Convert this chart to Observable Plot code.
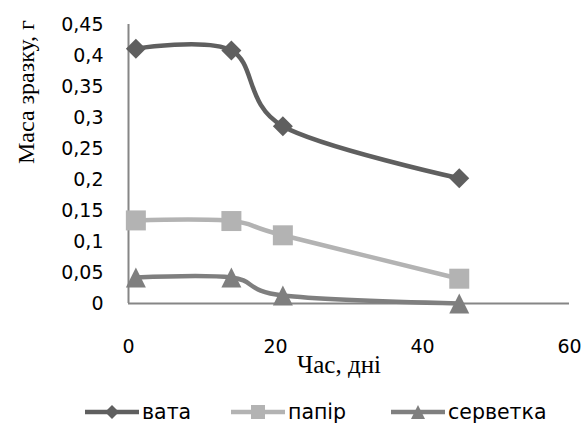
<!DOCTYPE html>
<html><head><meta charset="utf-8">
<script src="https://cdn.jsdelivr.net/npm/d3@7"></script>
<script src="https://cdn.jsdelivr.net/npm/@observablehq/plot@0.6"></script>
<style>
body{margin:0;background:#fff;}
#chart svg{display:block;}
</style>
</head><body><div id="chart"></div><div id="legend"></div>
<script>
// ---- data ----
const days = [1, 14, 21, 45];
const vata = [0.411, 0.408, 0.286, 0.202];
const papir = [0.134, 0.133, 0.110, 0.040];
const servetka = [0.042, 0.042, 0.013, 0.000];
const seriesNames = ["вата", "папір", "серветка"];
const seriesColors = ["#5f5f5f", "#b3b3b3", "#7f7f7f"];
const xTicks = [0, 20, 40, 60];
const yTicks = [0, 0.05, 0.1, 0.15, 0.2, 0.25, 0.3, 0.35, 0.4, 0.45];
const xTitle = "Час, дні";
const yTitle = "Маса зразку, г";

// ---- symbols (bbox-centred, like Excel markers) ----
const rOf = size => Math.sqrt(size / Math.PI);
const diamondSym = {draw(c, size){const r = rOf(size); c.moveTo(0,-r); c.lineTo(r,0); c.lineTo(0,r); c.lineTo(-r,0); c.closePath();}};
const squareSym = {draw(c, size){const r = rOf(size); c.moveTo(-r,-r); c.lineTo(r,-r); c.lineTo(r,r); c.lineTo(-r,r); c.closePath();}};
const triangleSym = {draw(c, size){const r = rOf(size); c.moveTo(0,-r); c.lineTo(r,r); c.lineTo(-r,r); c.closePath();}};
const symbols = [diamondSym, squareSym, triangleSym];

const values = [vata, papir, servetka];
const series = values.map((vals, i) => days.map((d, j) => ({day: d, mass: vals[j], name: seriesNames[i]})));

const W = 584, H = 385;
const serif = "'Liberation Serif', 'Times New Roman', serif";
const sans = "'DejaVu Sans', sans-serif";

const marks = [
  Plot.ruleX([0], {stroke: "#868686", strokeWidth: 2}),
  Plot.ruleY([0], {stroke: "#868686", strokeWidth: 2}),
  Plot.axisX({ticks: xTicks, tickSize: 0, tickPadding: 36, label: null, tickFormat: d => String(d)}),
  Plot.axisY({ticks: yTicks, tickSize: 0, tickPadding: 25, label: null, tickFormat: d => String(d).replace(".", ",")}),
];
series.forEach((s, i) => {
  marks.push(Plot.line(s, {x: "day", y: "mass", stroke: seriesColors[i], strokeWidth: 4.5, curve: "cardinal"}));
});
series.forEach((s, i) => {
  marks.push(Plot.dot(s, {x: "day", y: "mass", fill: seriesColors[i], stroke: "none", symbol: symbols[i], r: 10}));
});
marks.push(Plot.text([xTitle], {frameAnchor: "bottom", dx: -10, dy: 69, fontFamily: serif, fontSize: 25, fill: "#000"}));
marks.push(Plot.text([yTitle], {frameAnchor: "left", dx: -102, rotate: -90, fontFamily: serif, fontSize: 24, fill: "#000"}));

const chart = Plot.plot({
  width: W, height: H,
  marginLeft: 128, marginRight: 15, marginTop: 24, marginBottom: 82,
  x: {domain: [0, 60]},
  y: {domain: [0, 0.45]},
  style: {fontFamily: sans, fontSize: "19px", color: "#000", background: "#fff", overflow: "visible"},
  marks
});
document.getElementById("chart").appendChild(chart);

// ---- legend ----
const leg = d3.select("#legend").append("svg").attr("width", W).attr("height", 428 - H).style("display", "block");
const centres = [112, 258, 418];
seriesNames.forEach((name, i) => {
  const cx = centres[i], cy = 27;
  const g = leg.append("g");
  g.append("line").attr("x1", cx - 27).attr("x2", cx + 27).attr("y1", cy).attr("y2", cy)
    .attr("stroke", seriesColors[i]).attr("stroke-width", 4.5);
  g.append("path").attr("transform", `translate(${cx},${cy})`)
    .attr("d", d3.symbol(symbols[i], Math.PI * 7 * 7)()).attr("fill", seriesColors[i]);
  g.append("text").attr("x", cx + 30).attr("y", cy).attr("dy", "0.35em")
    .attr("font-family", sans).attr("font-size", 20.5).attr("fill", "#000").text(name);
});
</script>
</body></html>
